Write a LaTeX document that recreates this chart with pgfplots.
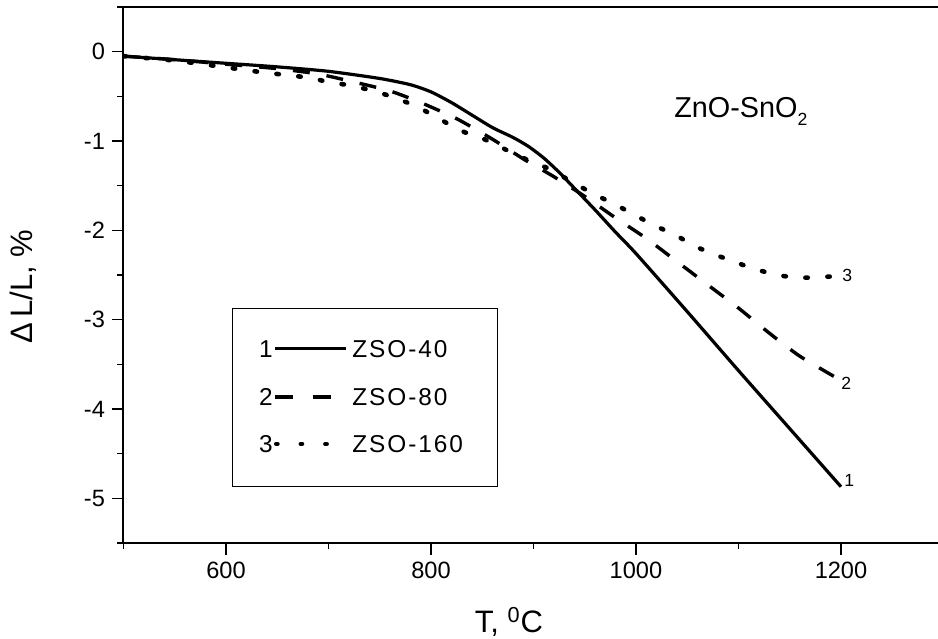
\documentclass[border=0pt]{standalone}
\usepackage{fontspec}
\setmainfont{Liberation Sans}
\newfontfamily\legfont{Liberation Sans}[LetterSpace=8]
\usepackage{pgfplots}
\pgfplotsset{compat=1.18}

% ZSO-40
\pgfplotstableread{
T    dL
500  -0.05
550  -0.09
600  -0.13
650  -0.17
700  -0.22
750  -0.30
780  -0.37
800  -0.45
820  -0.57
840  -0.71
860  -0.85
880  -0.96
895  -1.06
910  -1.19
925  -1.35
940  -1.53
960  -1.77
980  -2.02
1000 -2.26
1050 -2.91
1100 -3.57
1150 -4.22
1200 -4.87
}\zsoA
% ZSO-80
\pgfplotstableread{
T    dL
500  -0.05
550  -0.09
600  -0.14
650  -0.19
690  -0.25
725  -0.34
760  -0.44
790  -0.57
825  -0.75
860  -0.98
890  -1.20
920  -1.40
950  -1.62
980  -1.86
1010 -2.09
1040 -2.35
1070 -2.61
1100 -2.87
1130 -3.15
1160 -3.41
1200 -3.68
}\zsoB
% ZSO-160
\pgfplotstableread{
T    dL
500  -0.05
550  -0.10
590  -0.16
635  -0.23
680  -0.29
700  -0.34
722  -0.38
744  -0.44
766  -0.52
787  -0.62
808  -0.75
828  -0.88
850  -0.97
870  -1.08
892  -1.20
913  -1.30
935  -1.44
955  -1.57
976  -1.69
996  -1.81
1017 -1.94
1038 -2.05
1058 -2.18
1079 -2.28
1100 -2.37
1121 -2.45
1143 -2.51
1166 -2.53
1200 -2.51
}\zsoC

\begin{document}
\begin{tikzpicture}
\begin{axis}[
  scale only axis, width=410pt, height=268pt,
  xmin=500, xmax=1300, ymin=-5.5, ymax=0.5,
  xtick={600,800,1000,1200}, xticklabels={600,800,1000,1200},
  minor xtick={500,700,900,1100},
  ytick={-5,-4,-3,-2,-1,0}, yticklabels={-5,-4,-3,-2,-1,0},
  minor ytick={-5.5,-4.5,-3.5,-2.5,-1.5,-0.5,0.5},
  xtick pos=bottom, ytick pos=left,
  tick align=outside,
  major tick length=5.75pt, minor tick length=3pt,
  every tick/.style={black, line width=0.8pt},
  axis line style={line width=1pt},
  ticklabel style={font=\fontsize{11.8}{13}\selectfont},
  xlabel={T, \textsuperscript{0}C},
  ylabel={Δ\,L/L, \%},
  label style={font=\fontsize{15.5}{18}\selectfont},
  xlabel style={at={(rel axis cs:0.4701,-0.1674)}, anchor=base},
  ylabel style={at={(rel axis cs:-0.1104,0.4785)}, anchor=base},
]
\addplot[black, line width=1.6pt, smooth, tension=0.4] table[x=T, y=dL] {\zsoA};
\addplot[black, line width=1.7pt, smooth, tension=0.4, dash pattern=on 8.5pt off 8.5pt] table[x=T, y=dL] {\zsoB};
\addplot[black, line width=2.3pt, smooth, tension=0.4, line cap=round, dash pattern=on 1.2pt off 9.8pt] table[x=T, y=dL] {\zsoC};

% curve numbers
\node[anchor=west, inner sep=0pt, font=\fontsize{8.8}{10}\selectfont] at (axis cs:1203,-4.80) {1};
\node[anchor=west, inner sep=0pt, font=\fontsize{8.8}{10}\selectfont] at (axis cs:1200,-3.71) {2};
\node[anchor=west, inner sep=0pt, font=\fontsize{8.8}{10}\selectfont] at (axis cs:1201,-2.50) {3};

% compound label
\node[anchor=base west, inner sep=0pt, font=\fontsize{14.4}{16}\selectfont]
  at (axis cs:1037,-0.735) {ZnO-SnO\raisebox{-4pt}{\fontsize{8.8}{10}\selectfont 2}};

% legend box
\draw[line width=0.5pt] (axis cs:605.9,-2.880) rectangle (axis cs:864.4,-4.862);
\node[anchor=east, inner sep=0pt, font=\fontsize{12.2}{13}\selectfont] at (axis cs:646,-3.326) {1};
\node[anchor=east, inner sep=0pt, font=\fontsize{12.2}{13}\selectfont] at (axis cs:646,-3.865) {2};
\node[anchor=east, inner sep=0pt, font=\fontsize{12.2}{13}\selectfont] at (axis cs:646,-4.391) {3};
\draw[line width=1.6pt] (axis cs:647.8,-3.326) -- (axis cs:716.8,-3.326);
\draw[line width=1.7pt, dash pattern=on 9pt off 10pt] (axis cs:647.8,-3.865) -- (axis cs:716.8,-3.865);
\draw[line width=2.3pt, line cap=round, dash pattern=on 0.6pt off 11.7pt] (axis cs:649,-4.391) -- (axis cs:716.8,-4.391);
\node[anchor=west, inner sep=0pt, font=\legfont\fontsize{12.2}{13}\selectfont] at (axis cs:722.9,-3.326) {ZSO-40};
\node[anchor=west, inner sep=0pt, font=\legfont\fontsize{12.2}{13}\selectfont] at (axis cs:722.9,-3.865) {ZSO-80};
\node[anchor=west, inner sep=0pt, font=\legfont\fontsize{12.2}{13}\selectfont] at (axis cs:722.9,-4.391) {ZSO-160};
\end{axis}
\pgfresetboundingbox
\useasboundingbox (-61.75pt,-47.5pt) rectangle (407.25pt,271.5pt);
\end{tikzpicture}
\end{document}
